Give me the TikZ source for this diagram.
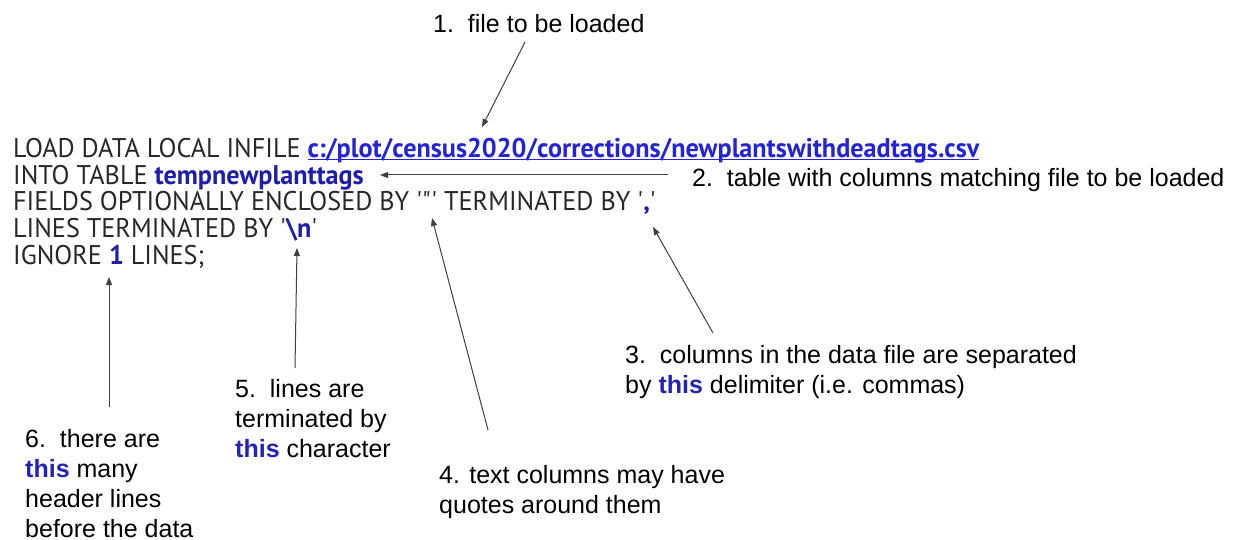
\documentclass[tikz,border=0pt]{standalone}
\usepackage{fontspec}
\setmainfont{Liberation Sans}
\newfontfamily\codefont[FakeStretch=0.97]{PT Sans}
\usetikzlibrary{arrows.meta}

\definecolor{codeblue}{RGB}{30,30,170}
\definecolor{urlblue}{RGB}{35,35,215}
\definecolor{thisblue}{RGB}{35,35,180}
\definecolor{inkgray}{RGB}{40,40,40}
\newcommand\blueword[1]{\textcolor{thisblue}{\textbf{#1}}}
\newcommand\bluecode[1]{\textcolor{codeblue}{\textbf{#1}}}

\begin{document}
\begin{tikzpicture}[x=1pt,y=-1pt,
  codeline/.style={anchor=base west,inner sep=0pt,text=inkgray,
    font=\codefont\fontsize{27}{27}\selectfont},
  note/.style={anchor=base west,inner sep=0pt,align=left,
    font=\fontsize{25}{30}\selectfont},
  pointer/.style={draw=black!75,line width=1pt,-{Triangle[length=8pt,width=6pt]}}]
\fill[white] (0,0) rectangle (1239,540);
\useasboundingbox (0,0) rectangle (1239,540);

% the load statement
\node[codeline] (load) at (13,158) {LOAD DATA LOCAL INFILE \textcolor{urlblue}{\textbf{\underline{\smash{c:/plot/census2020/corrections/newplantswithdeadtags.csv}}}}};
\node[codeline] (into) at (13,184.5) {INTO TABLE \bluecode{tempnewplanttags}};
\node[codeline] (fields) at (13,211) {FIELDS OPTIONALLY ENCLOSED BY \textquotesingle\textquotedbl\textquotesingle{} TERMINATED BY \textquotesingle\bluecode{,}\textquotesingle};
\node[codeline] (lines) at (13,237.5) {LINES TERMINATED BY \textquotesingle\bluecode{\textbackslash n}\textquotesingle};
\node[codeline] (ignore) at (13,264) {IGNORE \bluecode{1} LINES;};

% notes (base = last line)
\node[note] (nfile) at (433,33) {1.\ \ file to be loaded};
\node[note] (ntable) at (692,186) {2.\ \ table with columns matching file to be loaded};
\node[note] (ndelim) at (625,393) {3.\ \ columns in the data file are separated\\by \blueword{this} delimiter (i.e. commas)};
\node[note] (nquote) at (439,513) {4. text columns may have\\quotes around them};
\node[note] (nterm) at (235,457) {5.\ \ lines are\\terminated by\\\blueword{this} character};
\node[note] (nhead) at (25,537) {6.\ \ there are\\\blueword{this} many\\header lines\\before the data};

% arrow ends
\coordinate (f1) at (525,42);   \coordinate (t1) at (482,127);
\coordinate (f2) at (668,175);  \coordinate (t2) at (380,175);
\coordinate (f3) at (713,333);  \coordinate (t3) at (653,227);
\coordinate (f4) at (488,430);  \coordinate (t4) at (432,218);
\coordinate (f5) at (295,368);  \coordinate (t5) at (297,248);
\coordinate (f6) at (109,407);  \coordinate (t6) at (109,277);

\draw[pointer] (f1) -- (t1);
\draw[pointer] (f2) -- (t2);
\draw[pointer] (f3) -- (t3);
\draw[pointer] (f4) -- (t4);
\draw[pointer] (f5) -- (t5);
\draw[pointer] (f6) -- (t6);
\end{tikzpicture}
\end{document}
